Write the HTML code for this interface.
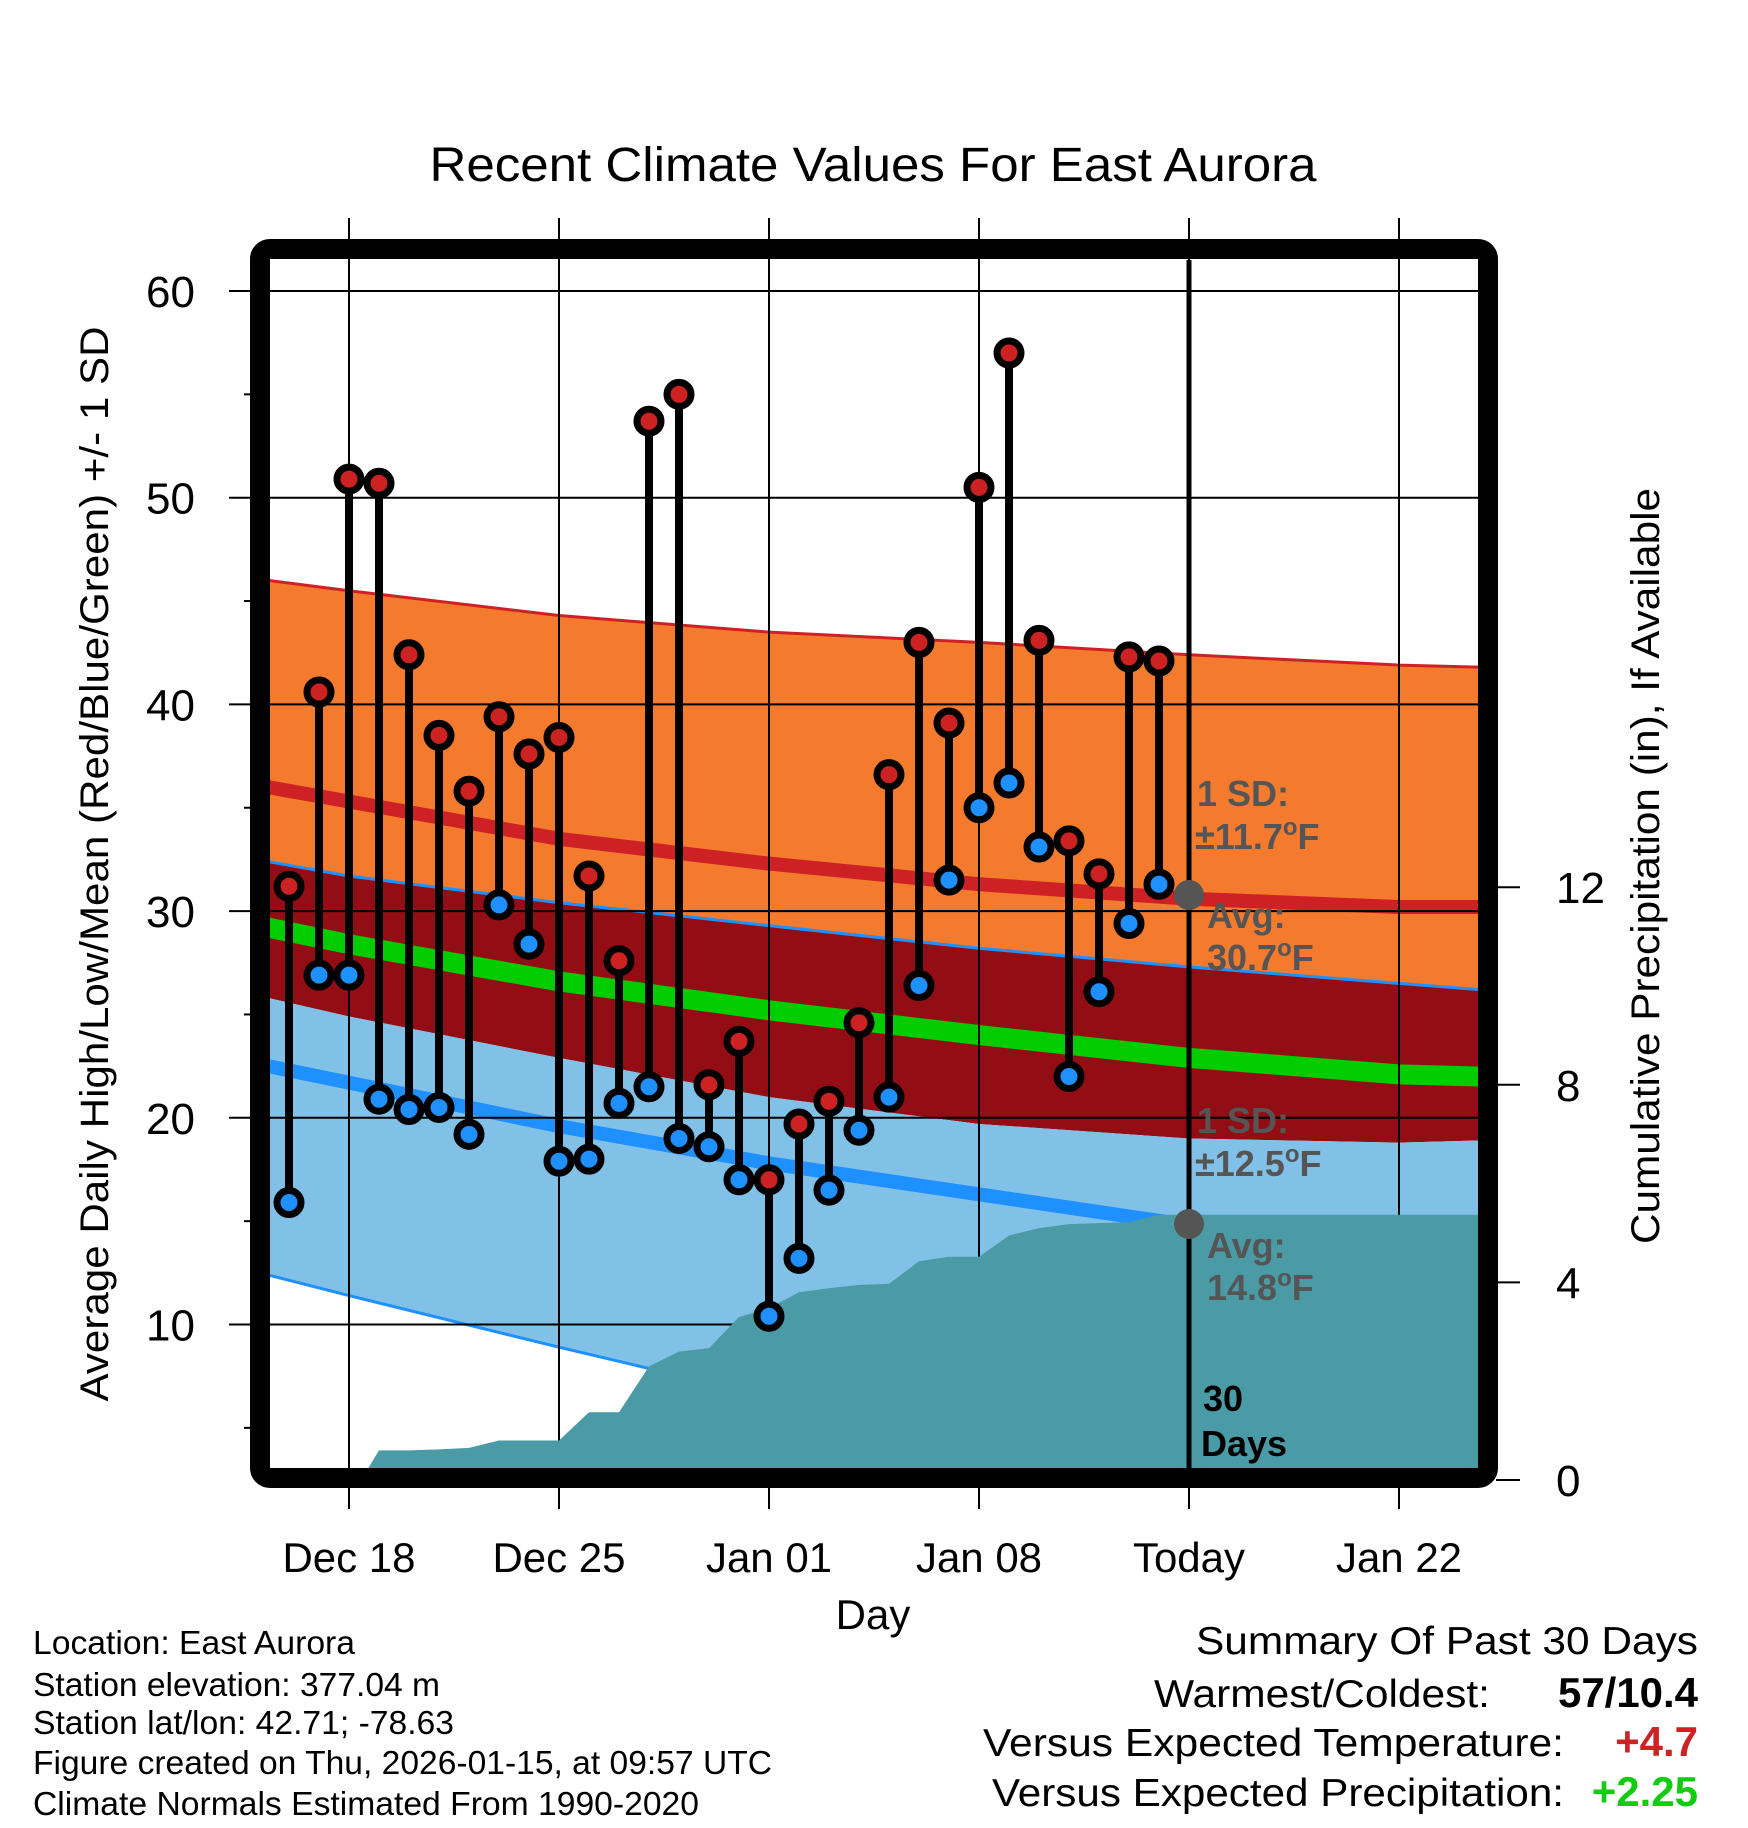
<!DOCTYPE html>
<html><head><meta charset="utf-8"><style>
html,body{margin:0;padding:0;background:#fff;}
svg{display:block;font-family:"Liberation Sans",Arial,sans-serif;}
</style></head><body>
<svg id="chart" width="1748" height="1828" viewBox="0 0 1748 1828" xmlns="http://www.w3.org/2000/svg">
<defs><clipPath id="plotclip"><rect x="270" y="260" width="1208" height="1208"/></clipPath></defs>
<g id="bands" clip-path="url(#plotclip)"></g>
<g id="grid"></g>
<g id="precip" clip-path="url(#plotclip)"></g>
<line x1="1189" y1="260" x2="1189" y2="1468" stroke="#000" stroke-width="5"/>
<g id="marks"></g>
<rect x="260" y="249" width="1228" height="1229" rx="10" fill="none" stroke="#000" stroke-width="20"/>
<g id="axes"></g>
<text x="873" y="181" text-anchor="middle" font-size="48" textLength="887" lengthAdjust="spacingAndGlyphs">Recent Climate Values For East Aurora</text>
<text transform="translate(108,864) rotate(-90)" text-anchor="middle" font-size="40" textLength="1075" lengthAdjust="spacingAndGlyphs">Average Daily High/Low/Mean (Red/Blue/Green) +/- 1 SD</text>
<text transform="translate(1659,866) rotate(-90)" text-anchor="middle" font-size="40" textLength="756" lengthAdjust="spacingAndGlyphs">Cumulative Precipitation (in), If Available</text>
<text x="873" y="1629" text-anchor="middle" font-size="42">Day</text>
<g font-weight="bold" font-size="36" fill="#555">
<circle cx="1189" cy="895" r="15" fill="#555"/>
<circle cx="1189" cy="1224" r="15" fill="#555"/>
<text x="1197" y="806">1 SD:</text>
<text x="1195" y="849">±11.7<tspan font-size="24" dy="-14">o</tspan><tspan dy="14">F</tspan></text>
<text x="1207" y="928">Avg:</text>
<text x="1207" y="970">30.7<tspan font-size="24" dy="-14">o</tspan><tspan dy="14">F</tspan></text>
<text x="1197" y="1133">1 SD:</text>
<text x="1195" y="1176">±12.5<tspan font-size="24" dy="-14">o</tspan><tspan dy="14">F</tspan></text>
<text x="1207" y="1258">Avg:</text>
<text x="1207" y="1300">14.8<tspan font-size="24" dy="-14">o</tspan><tspan dy="14">F</tspan></text>
<text x="1203" y="1411" fill="#000">30</text>
<text x="1201" y="1456" fill="#000">Days</text>
</g>
<g font-size="33">
<text x="33" y="1654" textLength="322" lengthAdjust="spacingAndGlyphs">Location: East Aurora</text>
<text x="33" y="1696" textLength="407" lengthAdjust="spacingAndGlyphs">Station elevation: 377.04 m</text>
<text x="33" y="1734" textLength="421" lengthAdjust="spacingAndGlyphs">Station lat/lon: 42.71; -78.63</text>
<text x="33" y="1774" textLength="739" lengthAdjust="spacingAndGlyphs">Figure created on Thu, 2026-01-15, at 09:57 UTC</text>
<text x="33" y="1815" textLength="666" lengthAdjust="spacingAndGlyphs">Climate Normals Estimated From 1990-2020</text>
</g>
<g font-size="39">
<text x="1698" y="1654" text-anchor="end" textLength="502" lengthAdjust="spacingAndGlyphs">Summary Of Past 30 Days</text>
<text x="1490" y="1707" text-anchor="end" textLength="336" lengthAdjust="spacingAndGlyphs">Warmest/Coldest:</text>
<text x="1698" y="1707" text-anchor="end" font-weight="bold" font-size="42" textLength="140" lengthAdjust="spacingAndGlyphs">57/10.4</text>
<text x="1564" y="1756" text-anchor="end" textLength="581" lengthAdjust="spacingAndGlyphs">Versus Expected Temperature:</text>
<text x="1698" y="1756" text-anchor="end" font-weight="bold" font-size="42" fill="#CC2222">+4.7</text>
<text x="1564" y="1806" text-anchor="end" textLength="572" lengthAdjust="spacingAndGlyphs">Versus Expected Precipitation:</text>
<text x="1698" y="1806" text-anchor="end" font-weight="bold" font-size="42" fill="#11CC11">+2.25</text>
</g>
</svg>
<script>
// ---- data ----
const obsDays = [-2,-1,0,1,2,3,4,5,6,7,8,9,10,11,12,13,14,15,16,17,18,19,20,21,22,23,24,25,26,27];
const highs = [31.2,40.6,50.9,50.7,42.4,38.5,35.8,39.4,37.6,38.4,31.7,27.6,53.7,55.0,21.6,23.7,17.0,19.7,20.8,24.6,36.6,43.0,39.1,50.5,57.0,43.1,33.4,31.8,42.3,42.1];
const lows = [15.9,26.9,26.9,20.9,20.4,20.5,19.2,30.3,28.4,17.9,18.0,20.7,21.5,19.0,18.6,17.0,10.4,13.2,16.5,19.4,21.0,26.4,31.5,35.0,36.2,33.1,22.0,26.1,29.4,31.3];
const normDays = [-2.7,0,7,14,21,28,35,37.7];
const highPlusSd = [46.0,45.5,44.3,43.5,43.0,42.4,41.9,41.8];
const avgHigh = [36.0,35.3,33.5,32.3,31.3,30.6,30.2,30.2];
const highMinusSd = [32.4,31.7,30.4,29.3,28.2,27.3,26.5,26.2];
const avgMean = [29.2,28.4,26.6,25.2,24.0,22.9,22.1,22.0];
const lowPlusSd = [25.8,24.9,22.9,21.0,19.7,19.0,18.8,18.9];
const avgLow = [22.5,21.7,19.6,17.8,16.3,14.8,14.2,14.0];
const lowMinusSd = [12.4,11.4,8.9,6.5,4.3,2.5,0.8,0.3];
const precipDays = [0,0.4,1,2,3,4,5,6,7,8,9,10,11,12,13,14,15,16,17,18,19,20,21,22,23,24,25,26,27,28,37.7];
const precipCum = [0,0,0.6,0.6,0.62,0.65,0.8,0.8,0.8,1.37,1.37,2.3,2.6,2.67,3.3,3.48,3.8,3.88,3.95,3.97,4.43,4.52,4.52,4.95,5.1,5.18,5.2,5.22,5.37,5.37,5.37];
const tempTicks = [10,20,30,40,50,60];
const tempMinor = [5,15,25,35,45,55];
const precipTicks = [0,4,8,12];
const dateTickDays = [0,7,14,21,28,35];
const dateTickLabels = ["Dec 18","Dec 25","Jan 01","Jan 08","Today","Jan 22"];

// ---- scales ----
const X = d => 349 + 30*d;
const Y = t => 291 + (60 - t)*20.67;
const P = p => 1480 - 49.4*p;
const NS = "http://www.w3.org/2000/svg";
function mk(tag, attrs, parent){const e=document.createElementNS(NS,tag);for(const k in attrs)e.setAttribute(k,attrs[k]);parent.appendChild(e);return e;}
const pts = (ds, vs, f) => ds.map((d,i)=>X(d).toFixed(1)+","+f(vs[i]).toFixed(1));
function band(top, bot){return pts(normDays,top,Y).concat(pts(normDays,bot,Y).reverse()).join(" ");}

const bands = document.getElementById("bands");
let e;
e = mk("polygon",{points:band(highPlusSd,highMinusSd),fill:"#F47A2D"},bands);


e = mk("polygon",{points:band(highMinusSd,lowPlusSd),fill:"#930D14"},bands);


e = mk("polygon",{points:band(lowPlusSd,lowMinusSd),fill:"#82C1E7"},bands);


const lines = [[highPlusSd,"#CD2126",3,'high-plus-sd-line'],[avgHigh,"#CD2126",14,'avg-high-line'],[highMinusSd,"#1E90FF",3,'high-minus-sd-line'],[avgMean,"#00CC00",20,'avg-mean-line'],[avgLow,"#1E90FF",14,'avg-low-line'],[lowMinusSd,"#1E90FF",3,'low-minus-sd-line']];
lines.forEach(l=>{
  const pl = mk("polyline",{points:pts(normDays,l[0],Y).join(" "),fill:"none",stroke:l[1],"stroke-width":l[2]},bands);
  
  
});

const grid = document.getElementById("grid");
tempTicks.forEach(t=>{
  const g = mk("line",{x1:229,x2:1478,y1:Y(t),y2:Y(t),stroke:"#000","stroke-width":2},grid);
  
  
});
dateTickDays.forEach(d=>{
  const g = mk("line",{x1:X(d),x2:X(d),y1:218,y2:1509,stroke:"#000","stroke-width":2},grid);
  
  
});

const precip = document.getElementById("precip");
const pp = pts(precipDays,precipCum,P);
pp.push(X(37.7)+",1470"); pp.push(X(0)+",1470");
e = mk("polygon",{points:pp.join(" "),fill:"#4A9BA5"},precip);



const marks = document.getElementById("marks");
obsDays.forEach((d,i)=>{
  const s = mk("line",{x1:X(d),x2:X(d),y1:Y(highs[i]),y2:Y(lows[i]),stroke:"#000","stroke-width":8},marks);
  
  
});
obsDays.forEach((d,i)=>{
  const h = mk("circle",{cx:X(d),cy:Y(highs[i]),r:12,fill:"#CC2222",stroke:"#000","stroke-width":7},marks);
  
  
  const l = mk("circle",{cx:X(d),cy:Y(lows[i]),r:12,fill:"#1E90FF",stroke:"#000","stroke-width":7},marks);
  
  
});

const axes = document.getElementById("axes");
tempTicks.forEach(t=>{
  const tx = mk("text",{x:195,y:Y(t)+16,"text-anchor":"end","font-size":44},axes);
  tx.textContent = t;
  
  
});
tempMinor.forEach(t=>{
  const m = mk("line",{x1:244,x2:252,y1:Y(t),y2:Y(t),stroke:"#000","stroke-width":2},axes);
  
  
});
precipTicks.forEach(p=>{
  const m = mk("line",{x1:1496,x2:1520,y1:P(p),y2:P(p),stroke:"#000","stroke-width":2},axes);
  
  
  const tx = mk("text",{x:1556,y:P(p)+16,"font-size":44},axes);
  tx.textContent = p;
  
  
});
dateTickDays.forEach((d,i)=>{
  const tx = mk("text",{x:X(d),y:1572,"text-anchor":"middle","font-size":42},axes);
  tx.textContent = dateTickLabels[i];
  
  
});
</script>
</body></html>
